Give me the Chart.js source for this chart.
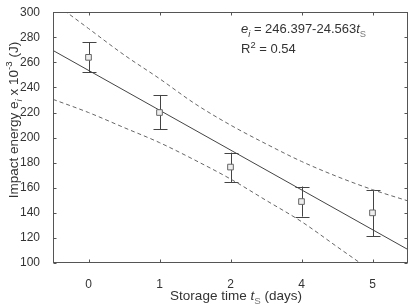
<!DOCTYPE html>
<html><head><meta charset="utf-8">
<script src="https://cdn.jsdelivr.net/npm/chart.js@4.4.1/dist/chart.umd.min.js"></script>
<style>html,body{margin:0;padding:0;background:#fff}#wrap{width:413px;height:306px}</style>
</head><body><div id="wrap"><canvas id="c" width="413" height="306"></canvas></div>
<script>
// ---- data ----
const categories = ['0', '1', '2', '4', '5'];           // storage time labels (days)
const catPos = [0, 1, 2, 3, 4];                          // evenly spaced category slots
const means = [264, 220, 176.5, 149, 140];
const errLow = [252, 206.5, 164.5, 137, 121.5];
const errHigh = [276, 234, 188, 161, 158];
const fitX = [-0.5, 4.5];
const fitY = [269.5, 110.7];
const bandX = [-0.5, 0, 0.5, 1, 1.5, 2, 2.5, 3, 3.5, 4, 4.5];
const bandUpper = [308, 287, 266, 247, 227, 210, 195, 181, 169, 158.5, 149.5];
const bandLower = [230.5, 220, 208, 196, 182, 167, 150, 133, 113, 93, 72];
const yTicks = [100, 120, 140, 160, 180, 200, 220, 240, 260, 280, 300];

const FONT = '"Liberation Sans", Arial, sans-serif';
const AXC = '#555';

function richWidth(ctx, parts, size) {
  let w = 0;
  for (const p of parts) {
    const s = (p.sub || p.sup) ? size * 0.72 : size;
    ctx.font = (p.it ? 'italic ' : '') + s + 'px ' + FONT;
    w += ctx.measureText(p.t).width;
  }
  return w;
}
function drawRich(ctx, parts, x, y, size, color) {
  let cx = x;
  for (const p of parts) {
    const s = (p.sub || p.sup) ? size * 0.72 : size;
    ctx.font = (p.it ? 'italic ' : '') + s + 'px ' + FONT;
    ctx.fillStyle = p.color || color;
    const dy = p.sub ? size * 0.3 : (p.sup ? -size * 0.42 : 0);
    ctx.fillText(p.t, cx, y + dy);
    cx += ctx.measureText(p.t).width;
  }
}

const decor = {
  id: 'decor',
  beforeDatasetsDraw(chart) {
    const ctx = chart.ctx, xs = chart.scales.x, ys = chart.scales.y;
    ctx.save();
    ctx.strokeStyle = '#444';
    ctx.lineWidth = 1;
    for (let i = 0; i < means.length; i++) {
      const px = Math.round(xs.getPixelForValue(catPos[i])) + 0.5;
      const lo = ys.getPixelForValue(errLow[i]);
      const hi = ys.getPixelForValue(errHigh[i]);
      ctx.beginPath();
      ctx.moveTo(px, lo); ctx.lineTo(px, hi);
      ctx.moveTo(px - 7, Math.round(lo) + 0.5); ctx.lineTo(px + 7, Math.round(lo) + 0.5);
      ctx.moveTo(px - 7, Math.round(hi) + 0.5); ctx.lineTo(px + 7, Math.round(hi) + 0.5);
      ctx.stroke();
    }
    ctx.restore();
  },
  afterDraw(chart) {
    const ctx = chart.ctx, a = chart.chartArea, xs = chart.scales.x, ys = chart.scales.y;
    ctx.save();
    ctx.strokeStyle = AXC;
    ctx.lineWidth = 1;
    const L = Math.round(a.left) + 0.5, R = Math.round(a.right) - 0.5, T = Math.round(a.top) + 0.5, B = Math.round(a.bottom) - 0.5;
    ctx.strokeRect(L, T, R - L, B - T);
    ctx.beginPath();
    for (const v of catPos) {
      const px = Math.round(xs.getPixelForValue(v)) + 0.5;
      ctx.moveTo(px, B); ctx.lineTo(px, B - 3);
      ctx.moveTo(px, T); ctx.lineTo(px, T + 3);
    }
    for (const v of yTicks) {
      const py = Math.round(ys.getPixelForValue(v)) + 0.5;
      ctx.moveTo(L, py); ctx.lineTo(L + 3, py);
      ctx.moveTo(R, py); ctx.lineTo(R - 3, py);
    }
    ctx.stroke();

    ctx.textBaseline = 'alphabetic';
    ctx.textAlign = 'left';
    // annotation
    const ann1 = [{t: 'e', it: true}, {t: 'i', it: true, sub: true}, {t: ' = 246.397-24.563'}, {t: 't', it: true}, {t: 'S', sub: true, color: '#777'}];
    drawRich(ctx, ann1, 241, 33, 13, '#333');
    const ann2 = [{t: 'R'}, {t: '2', sup: true}, {t: ' = 0.54'}];
    drawRich(ctx, ann2, 241, 53, 13, '#333');
    // x title
    const xt = [{t: 'Storage time '}, {t: 't', it: true}, {t: 'S', sub: true, color: '#777'}, {t: ' (days)'}];
    const xw = richWidth(ctx, xt, 13.5);
    drawRich(ctx, xt, 236 - xw / 2, 300, 13.5, '#333');
    // y title
    const yt = [{t: 'Impact energy '}, {t: 'e'}, {t: 'i', it: true, sub: true}, {t: ' x 10'}, {t: '-3', sup: true}, {t: ' (J)'}];
    const yw = richWidth(ctx, yt, 13.5);
    ctx.translate(18, 120);
    ctx.rotate(-Math.PI / 2);
    drawRich(ctx, yt, -yw / 2, 0, 13.5, '#333');
    ctx.restore();
  }
};

new Chart(document.getElementById('c'), {
  type: 'scatter',
  data: {
    datasets: [
      {
        type: 'line',
        data: fitX.map((x, i) => ({x, y: fitY[i]})),
        borderColor: '#444', borderWidth: 1, pointRadius: 0, tension: 0, order: 3
      },
      {
        type: 'line',
        data: bandX.map((x, i) => ({x, y: bandUpper[i]})),
        borderColor: '#666', borderWidth: 1, borderDash: [4, 3], pointRadius: 0, cubicInterpolationMode: 'monotone', order: 3
      },
      {
        type: 'line',
        data: bandX.map((x, i) => ({x, y: bandLower[i]})),
        borderColor: '#666', borderWidth: 1, borderDash: [4, 3], pointRadius: 0, cubicInterpolationMode: 'monotone', order: 3
      },
      {
        data: catPos.map((x, i) => ({x, y: means[i]})),
        showLine: false, pointStyle: 'rect', pointRadius: 4,
        pointBackgroundColor: '#eeeeee', pointBorderColor: '#666', pointBorderWidth: 1, order: 1
      }
    ]
  },
  options: {
    responsive: false,
    animation: false,
    events: [],
    layout: {padding: {left: 0, right: 3, top: 7, bottom: 0}},
    plugins: {legend: {display: false}, tooltip: {enabled: false}},
    scales: {
      x: {
        type: 'linear', min: -0.5, max: 4.5,
        afterBuildTicks: s => { s.ticks = catPos.map(v => ({value: v})); },
        afterFit: s => { s.height = 43; },
        grid: {display: false}, border: {display: false},
        ticks: {padding: 6, color: '#333', font: {family: FONT, size: 12},
          callback: v => { const i = catPos.indexOf(v); return i >= 0 ? categories[i] : ''; }}
      },
      y: {
        min: 100, max: 300,
        afterBuildTicks: s => { s.ticks = yTicks.map(v => ({value: v})); },
        afterFit: s => { s.width = 53; },
        grid: {display: false}, border: {display: false},
        ticks: {padding: 5, color: '#333', font: {family: FONT, size: 12}}
      }
    }
  },
  plugins: [decor]
});
</script></body></html>
